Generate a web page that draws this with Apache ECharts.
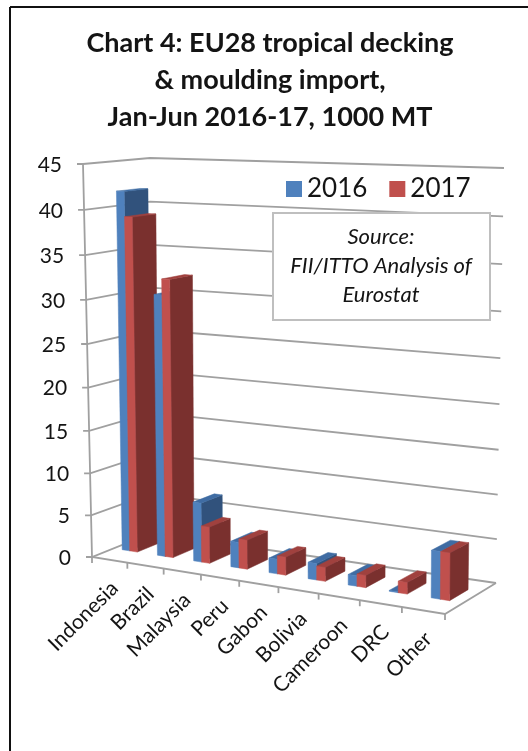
<!DOCTYPE html>
<html>
<head>
<meta charset="utf-8">
<style>html,body{margin:0;padding:0;background:#fff}#chart{width:528px;height:751px}</style>
<script src="https://cdn.jsdelivr.net/npm/echarts@6/dist/echarts.min.js"></script>
</head>
<body>
<div id="chart"></div>
<script>
// Import volumes, 1000 MT
const categories = ['Indonesia','Brazil','Malaysia','Peru','Gabon','Bolivia','Cameroon','DRC','Other'];
const values2016 = [41.8,30.5,7.0,3.0,1.7,1.9,1.2,0.1,5.3];
const values2017 = [39.0,32.3,4.3,3.4,2.1,1.6,1.4,1.3,5.3];
const yTicks = [0,5,10,15,20,25,30,35,40,45];
const titleText = 'Chart 4: EU28 tropical decking\n& moulding import,\nJan-Jun 2016-17, 1000 MT';
const sourceText = 'Source:\nFII/ITTO Analysis of\nEurostat';

const FONT = 'Lato, "Open Sans", sans-serif';
const GRID_COLOR = '#a0a0a0';
const TEXT_COLOR = '#141414';

// Corners of the perspective box, indexed [u][v][w]
const BOX = [
  [[[92,557],[83,164]],[[152,533],[150,158]]],
  [[[445,614],[446,179]],[[496,583],[504,168]]]
];
const BAR_V0 = 0.36, BAR_V1 = 0.72;   // depth span of the columns on the floor
const BAR_FRAC = 0.216;               // width of one column as a share of its band
const BAR_SHIFT = -0.036;             // cluster offset within the band

const FACES = {
  blue: {front:'#4F81BD', side:'#31527C', top:'#3F6CA3'},
  red:  {front:'#C0504D', side:'#7A302E', top:'#A0413E'}
};

const warpU = u => u + 0.111 * u * (u - 1);
const warpW = w => w + 0.055 * w * (w - 1);
const lerp = (a, b, t) => a + (b - a) * t;

// Maps a unit position (along categories, into depth, up the value axis) on to the page.
function project(u, v, w) {
  const uu = warpU(u), ww = warpW(w);
  const out = [0, 0];
  for (let k = 0; k < 2; k++) {
    const f = lerp(lerp(BOX[0][0][0][k], BOX[1][0][0][k], uu), lerp(BOX[0][1][0][k], BOX[1][1][0][k], uu), v);
    const c = lerp(lerp(BOX[0][0][1][k], BOX[1][0][1][k], uu), lerp(BOX[0][1][1][k], BOX[1][1][1][k], uu), v);
    out[k] = lerp(f, c, ww);
  }
  return out;
}

// Converts a point on the flat grid into unit positions.
const unitX = (cs, px) => (px - cs.x) / cs.width;
const unitY = (cs, py) => (cs.y + cs.height - py) / cs.height;

function barRenderer(faces, seriesOrder) {
  return function (params, api) {
    const cs = params.coordSys;
    const i = api.value(0);
    const p = api.coord([i, api.value(1)]);
    const base = api.coord([i, 0]);
    const band = api.size([1, 0])[0];
    const left = p[0] + band * (BAR_SHIFT + (seriesOrder - 1) * BAR_FRAC);
    const u0 = unitX(cs, left), u1 = unitX(cs, left + band * BAR_FRAC);
    const w0 = unitY(cs, base[1]), w1 = unitY(cs, p[1]);
    const z2 = i * 2 + seriesOrder;
    const poly = (pts, fill) => ({
      type: 'polygon', z2,
      shape: {points: pts},
      style: {fill, stroke: fill, lineWidth: 0.5}
    });
    return {
      type: 'group',
      children: [
        poly([project(u1,BAR_V0,w0),project(u1,BAR_V1,w0),project(u1,BAR_V1,w1),project(u1,BAR_V0,w1)], faces.side),
        poly([project(u0,BAR_V0,w1),project(u1,BAR_V0,w1),project(u1,BAR_V1,w1),project(u0,BAR_V1,w1)], faces.top),
        poly([project(u0,BAR_V0,w0),project(u1,BAR_V0,w0),project(u1,BAR_V0,w1),project(u0,BAR_V0,w1)], faces.front)
      ]
    };
  };
}

// One horizontal rule on the side and back walls, with its tick and value label.
function renderRule(params, api) {
  const cs = params.coordSys;
  const val = api.value(0);
  const w = unitY(cs, api.coord([0, val])[1]);
  const a = project(0,0,w), b = project(0,1,w), c = project(1,1,w);
  const lineStyle = {stroke: GRID_COLOR, lineWidth: 1.8, fill: null};
  return {
    type: 'group',
    children: [
      {type:'polyline', shape:{points:[[a[0]-6,a[1]],a,b,c]}, style:lineStyle},
      {type:'text', x:a[0]-21, y:a[1]+1, style:{text:String(val), align:'right', verticalAlign:'middle',
        font:'21px '+FONT, fill:TEXT_COLOR}}
    ]
  };
}

// One category tick on the front edge of the floor, with its slanted label.
function renderCategory(params, api) {
  const cs = params.coordSys;
  const i = api.value(0);
  const p = api.coord([i, 0]);
  const band = api.size([1, 0])[0];
  const uTick = unitX(cs, p[0] + band / 2);
  const tick = project(uTick, 0, 0);
  const mid = project(unitX(cs, p[0]), 0, 0);
  return {
    type: 'group',
    children: [
      {type:'line', shape:{x1:tick[0], y1:tick[1], x2:tick[0], y2:tick[1]+6}, style:{stroke:GRID_COLOR, lineWidth:1.8}},
      {type:'text', x:mid[0]+5, y:mid[1]+25, rotation:Math.PI/4,
        style:{text:categories[i], align:'right', verticalAlign:'middle', font:'21px '+FONT, fill:TEXT_COLOR}}
    ]
  };
}

// The axis edge and the outline of the floor.
function renderBox(params, api) {
  const s = {stroke: GRID_COLOR, lineWidth: 1.8, fill: null};
  const fl = project(0,0,0), fr = project(1,0,0), br = project(1,1,0), tl = project(0,0,1);
  return {
    type: 'group',
    children: [
      {type:'polyline', shape:{points:[tl, fl, fr, br]}, style:s},
      {type:'line', shape:{x1:fl[0], y1:fl[1], x2:fl[0], y2:fl[1]+6}, style:s}
    ]
  };
}

const chart = echarts.init(document.getElementById('chart'), null, {renderer:'canvas'});
chart.setOption({
  animation: false,
  backgroundColor: '#ffffff',
  title: {
    text: titleText,
    left: 265, top: 20, textAlign: 'center',
    textStyle: {fontFamily: FONT, fontSize: 27, fontWeight: 'bold', color: TEXT_COLOR, lineHeight: 37}
  },
  legend: {
    left: 281, top: 171, itemWidth: 16, itemHeight: 16, itemGap: 22, selectedMode: false,
    data: [{name:'2016', icon:'rect'},{name:'2017', icon:'rect'}],
    textStyle: {fontFamily: FONT, fontSize: 26, color: TEXT_COLOR}
  },
  grid: {left: 100, right: 100, top: 100, bottom: 100},
  xAxis: {type:'category', data:categories, show:false},
  yAxis: {type:'value', min:0, max:45, interval:5, show:false},
  graphic: [
    {type:'line', z:100, shape:{x1:10, y1:7, x2:528, y2:7}, style:{stroke:'#111', lineWidth:2}},
    {type:'line', z:100, shape:{x1:10, y1:7, x2:10, y2:751}, style:{stroke:'#111', lineWidth:2}},
    {type:'rect', z:100, shape:{x:273, y:213, width:217, height:107},
      style:{fill:'#fff', stroke:'#bfbfbf', lineWidth:2}},
    {type:'text', z:101, x:381, y:266, style:{text:sourceText, align:'center', verticalAlign:'middle',
      font:'italic 22px '+FONT, lineHeight:29, fill:TEXT_COLOR}}
  ],
  series: [
    {type:'custom', name:'walls', z:1, silent:true, renderItem:renderRule, data:yTicks.map(v=>[v]),
      encode:{y:0}},
    {type:'custom', name:'box', z:1, silent:true, renderItem:renderBox, data:[[0]], encode:{x:0}},
    {type:'custom', name:'labels', z:1, silent:true, renderItem:renderCategory,
      data:categories.map((c,i)=>[i]), encode:{x:0}},
    {type:'custom', name:'2016', z:2, silent:true, itemStyle:{color:FACES.blue.front},
      renderItem:barRenderer(FACES.blue,0), data:values2016.map((v,i)=>[i,v]), encode:{x:0,y:1}},
    {type:'custom', name:'2017', z:2, silent:true, itemStyle:{color:FACES.red.front},
      renderItem:barRenderer(FACES.red,1), data:values2017.map((v,i)=>[i,v]), encode:{x:0,y:1}}
  ]
});
</script>
</body>
</html>
